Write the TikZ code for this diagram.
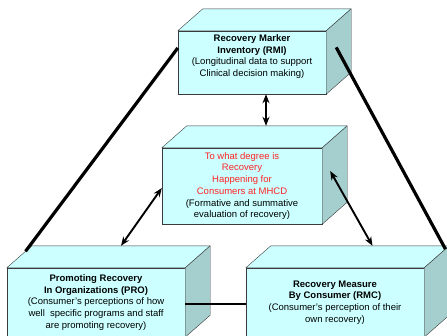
\documentclass[tikz,border=0pt]{standalone}
\usepackage{fontspec}
\setmainfont{Liberation Sans}
\usetikzlibrary{arrows.meta,calc}
\definecolor{facecyan}{HTML}{CCFFFF}
\definecolor{sidecyan}{HTML}{A5CECE}
\definecolor{edgegray}{HTML}{3A3A3A}
\definecolor{hintred}{HTML}{FF2525}
% top and side faces behind a front face node
\newcommand{\crate}[1]{%
	\coordinate (#1-bnw) at ([shift={(25,-22)}]#1.north west);
	\coordinate (#1-bne) at ([shift={(25,-22)}]#1.north east);
	\coordinate (#1-bse) at ([shift={(25,-22)}]#1.south east);
	\filldraw[topface] (#1.north west) -- (#1-bnw) -- (#1-bne) -- (#1.north east) -- cycle;
	\filldraw[sideface] (#1.north east) -- (#1-bne) -- (#1-bse) -- (#1.south east) -- cycle;
}
\begin{document}
\begin{tikzpicture}[x=1pt,y=-1pt,
	front/.style={draw=edgegray,fill=facecyan,thin,inner sep=0pt},
	topface/.style={draw=edgegray,fill=facecyan,thin,line join=round},
	sideface/.style={draw=edgegray,fill=sidecyan,thin,line join=round},
	txt/.style={align=center,inner sep=0pt,font=\fontsize{9.5}{11.7}\selectfont},
	link/.style={line width=3.2pt},
	dbl/.style={line width=1.9pt,{Stealth[length=9pt,width=7pt]}-{Stealth[length=9pt,width=7pt]}}]
	\useasboundingbox (0,0) rectangle (447,335);
	% Boxes
	\node[front,minimum width=148pt,minimum height=63pt] (rmi) at (252,62.5) {};
	\crate{rmi}
	\node[txt] (rmi-text) at ([yshift=6pt]rmi.center)
		{\textbf{Recovery Marker}\\\textbf{Inventory (RMI)}\\(Longitudinal data to support\\Clinical decision making)};
	\node[front,minimum width=160pt,minimum height=76pt] (mid) at (242,186) {};
	\crate{mid}
	\node[txt] (mid-text) at (mid.center)
		{\textcolor{hintred}{To what degree is}\\\textcolor{hintred}{Recovery}\\\textcolor{hintred}{Happening for}\\\textcolor{hintred}{Consumers at MHCD}\\(Formative and summative\\evaluation of recovery)};
	\node[front,minimum width=178pt,minimum height=69pt] (pro) at (96,302.5) {};
	\crate{pro}
	\node[txt] (pro-text) at (pro.center)
		{\textbf{Promoting Recovery}\\\textbf{In Organizations (PRO)}\\(Consumer’s perceptions of how\\well \ specific programs and staff\\are promoting recovery)};
	\node[front,minimum width=178pt,minimum height=69pt] (rmc) at (335,302.5) {};
	\crate{rmc}
	\node[txt] (rmc-text) at (rmc.center)
		{\textbf{Recovery Measure}\\\textbf{By Consumer (RMC)}\\(Consumer’s perception of their\\own recovery)};
	% Triangle of links
	\draw[link] ($(rmi.north west)!0.27!(rmi.south west)$) -- ($(pro.north west)!0.75!(pro-bnw)$);
	\draw[link] ($(rmi.north east)!0.4!(rmi-bse)$) -- ($(rmc-bne)!0.15!(rmc.north east)$);
	\draw[link,line width=2.8pt] ([yshift=-1.5pt]pro.east) -- ([yshift=-1.5pt]rmc.west);
	% Arrows to the middle box
	\draw[dbl,line width=2.4pt] ([xshift=14pt]rmi.south) -- ([xshift=14pt]rmi.south |- mid-bnw);
	\draw[dbl] ([yshift=-2pt]mid.west) -- ($(pro-bnw)!0.5!(pro-bne)$);
	\draw[dbl] ([shift={(8,-15)}]mid.east) -- ($(rmc-bnw)!0.57!(rmc-bne)$);
\end{tikzpicture}
\end{document}
